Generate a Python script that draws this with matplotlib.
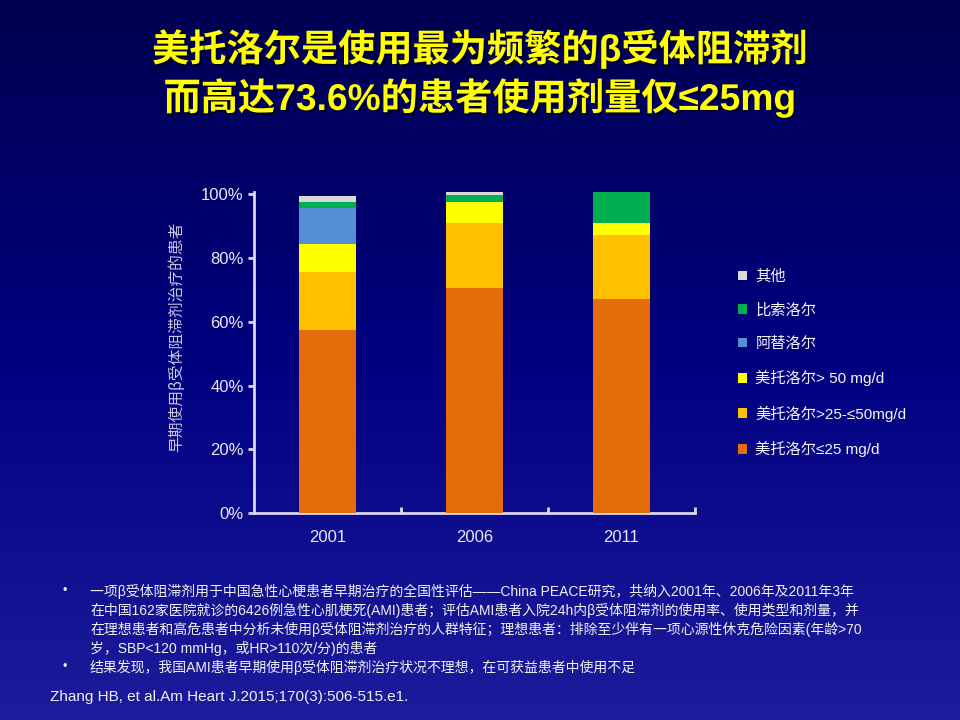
import numpy as np
import matplotlib
matplotlib.use('Agg')
import matplotlib.pyplot as plt
from matplotlib.patches import Patch
from matplotlib.colors import LinearSegmentedColormap
import matplotlib.patheffects as pe

plt.rcParams['font.family'] = ['Liberation Sans', 'Noto Sans CJK SC', 'DejaVu Sans']

# data (percent of patients, bottom to top of each bar)
years = ['2001', '2006', '2011']
metoprolol_le25 = [57.4, 70.6, 67.1]
metoprolol_25_50 = [18.2, 20.3, 20.1]
metoprolol_gt50 = [8.7, 6.5, 3.7]
atenolol = [11.3, 0.0, 0.0]
bisoprolol = [1.9, 2.3, 9.7]
other = [1.9, 0.9, 0.0]

series_labels = ['美托洛尔≤25 mg/d', '美托洛尔>25-≤50mg/d', '美托洛尔> 50 mg/d',
                 '阿替洛尔', '比索洛尔', '其他']
series_colors = ['#E46C0A', '#FFC000', '#FFFF00', '#558ED5', '#00B050', '#D9D9D9']
yticks = [0, 20, 40, 60, 80, 100]

title_lines = ['美托洛尔是使用最为频繁的β受体阻滞剂', '而高达73.6%的患者使用剂量仅≤25mg']
ylabel = '早期使用β受体阻滞剂治疗的患者'
note_lines = [
    ('•', '一项β受体阻滞剂用于中国急性心梗患者早期治疗的全国性评估——China PEACE研究，共纳入2001年、2006年及2011年3年'),
    ('', '在中国162家医院就诊的6426例急性心肌梗死(AMI)患者；评估AMI患者入院24h内β受体阻滞剂的使用率、使用类型和剂量，并'),
    ('', '在理想患者和高危患者中分析未使用β受体阻滞剂治疗的人群特征；理想患者：排除至少伴有一项心源性休克危险因素(年龄>70'),
    ('', '岁，SBP<120 mmHg，或HR>110次/分)的患者'),
    ('•', '结果发现，我国AMI患者早期使用β受体阻滞剂治疗状况不理想，在可获益患者中使用不足'),
]
citation = 'Zhang HB, et al.Am Heart J.2015;170(3):506-515.e1.'

fig = plt.figure(figsize=(9.6, 7.2), dpi=100)

# gradient background
bg = fig.add_axes([0, 0, 1, 1], zorder=-10)
cmap = LinearSegmentedColormap.from_list('bg', ['#000050', '#000080', '#1c1c9c'])
grad = np.linspace(0, 1, 256).reshape(-1, 1)
bg.imshow(grad, aspect='auto', cmap=cmap, extent=[0, 1, 0, 1], origin='upper')
bg.axis('off')

ax = fig.add_axes([0.2646, 0.2871, 0.4594, 0.4466])
ax.patch.set_alpha(0)

x = np.arange(len(years))
all_series = [metoprolol_le25, metoprolol_25_50, metoprolol_gt50, atenolol, bisoprolol, other]
bottom = np.zeros(len(years))
for vals, col in zip(all_series, series_colors):
    ax.bar(x, vals, width=0.385, bottom=bottom, color=col, zorder=3, clip_on=False)
    bottom = bottom + np.array(vals)

axis_col = '#D8D8E8'
ax.set_xlim(-0.5, 2.5)
ax.set_ylim(0, 100.7)
for s in ['top', 'right']:
    ax.spines[s].set_visible(False)
for s in ['left', 'bottom']:
    ax.spines[s].set_color(axis_col)
    ax.spines[s].set_linewidth(2)

ax.set_yticks(yticks)
ax.set_yticklabels([f'{v}%' for v in yticks])
ax.tick_params(axis='y', direction='out', length=4.5, width=2, color=axis_col,
               labelcolor='#E8E8F0', labelsize=12, pad=3)
ax.set_xticks(x)
ax.set_xticklabels(years)
ax.set_xticks([0.5, 1.5, 2.5], minor=True)
ax.tick_params(axis='x', which='major', length=0, labelcolor='#E8E8F0', labelsize=12, pad=12)
ax.tick_params(axis='x', which='minor', direction='in', length=4.5, width=2, color=axis_col)

fig.text(177 / 960, 1 - 337 / 720, ylabel, rotation=90, ha='center', va='center',
         fontsize=11.3, color='#C8C8E0', family=['Noto Sans CJK SC', 'DejaVu Sans'])

# legend, top entry first
handles = [Patch(facecolor=c, edgecolor='none') for c in series_colors][::-1]
fig.legend(handles, series_labels[::-1], loc='upper left',
           bbox_to_anchor=(724 / 960, 1 - 256 / 720), frameon=False,
           fontsize=11, labelcolor='#F4F4F4', handlelength=0.6, handleheight=0.6,
           handletextpad=0.55, labelspacing=1.26)

# title
for i, line in enumerate(title_lines):
    fig.text(0.5, 1 - (49 + 49 * i) / 720, line, ha='center', va='center',
             fontsize=26.8, fontweight='bold', color='#FFFF00',
             family=['Liberation Sans', 'Noto Sans CJK SC', 'DejaVu Sans'],
             path_effects=[pe.withSimplePatchShadow(offset=(1.5, -1.5), shadow_rgbFace='black', alpha=0.6)])

# notes
for i, (bullet, line) in enumerate(note_lines):
    yy = 1 - (591 + 19 * i) / 720
    if bullet:
        fig.text(62 / 960, yy, bullet, ha='left', va='center', fontsize=9, color='#F0F0F0')
    fig.text(90 / 960, yy, line, ha='left', va='center', fontsize=10, color='#F0F0F0')

fig.text(50 / 960, 1 - 697 / 720, citation, ha='left', va='center', fontsize=11, color='#F0F0F0')

fig.savefig('out.png', dpi=100)
